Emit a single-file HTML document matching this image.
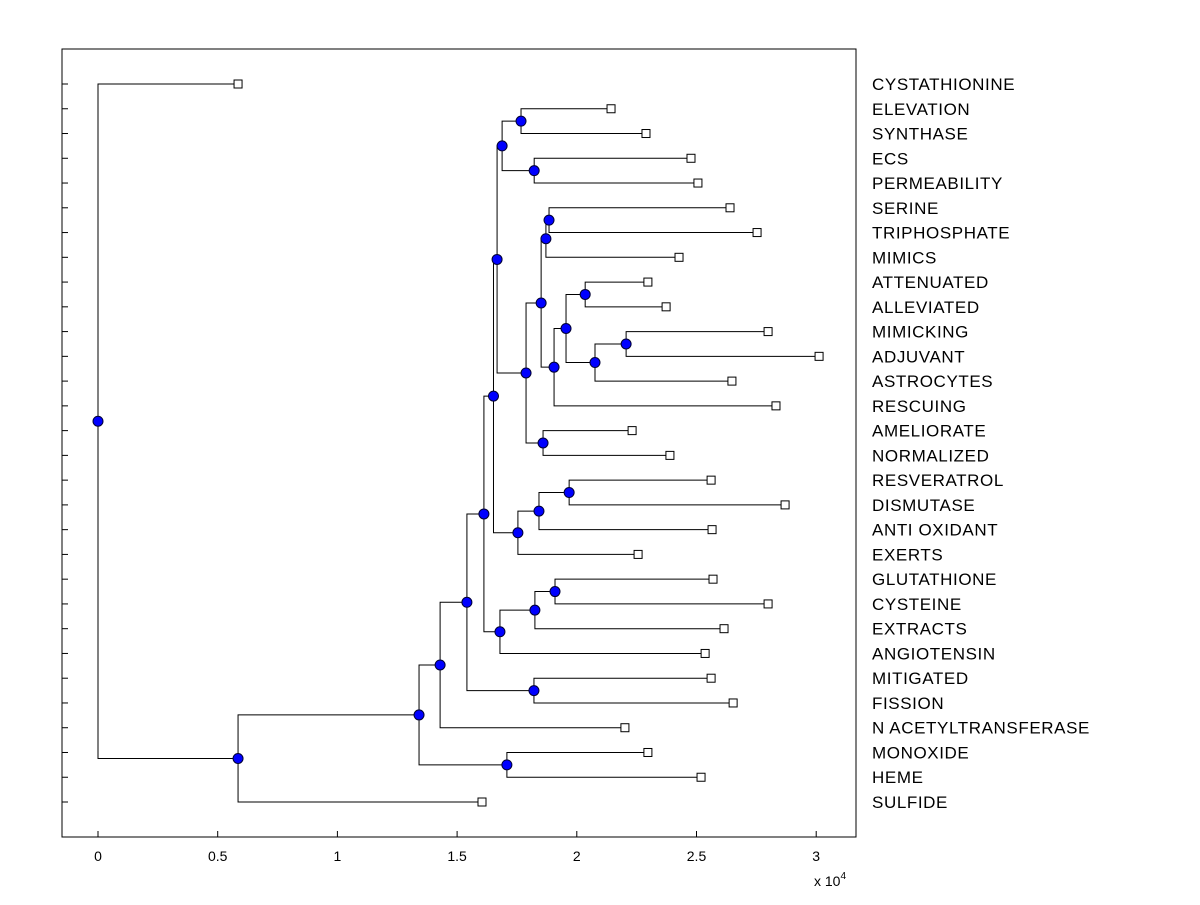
<!DOCTYPE html>
<html><head><meta charset="utf-8"><style>
body{margin:0;background:#fff;}
svg text{font-family:"Liberation Sans",Arial,sans-serif;}
</style></head><body>
<svg id="chart" width="1200" height="900" xmlns="http://www.w3.org/2000/svg">
<rect x="0" y="0" width="1200" height="900" fill="#fff"/>
<g id="plot"></g>
</svg>
<script>
const leafNames=["CYSTATHIONINE","ELEVATION","SYNTHASE","ECS","PERMEABILITY","SERINE","TRIPHOSPHATE","MIMICS","ATTENUATED","ALLEVIATED","MIMICKING","ADJUVANT","ASTROCYTES","RESCUING","AMELIORATE","NORMALIZED","RESVERATROL","DISMUTASE","ANTI OXIDANT","EXERTS","GLUTATHIONE","CYSTEINE","EXTRACTS","ANGIOTENSIN","MITIGATED","FISSION","N ACETYLTRANSFERASE","MONOXIDE","HEME","SULFIDE"];
const leafValues=[0.585,2.143,2.289,2.477,2.506,2.64,2.753,2.427,2.297,2.373,2.799,3.012,2.648,2.832,2.231,2.389,2.561,2.87,2.565,2.256,2.569,2.799,2.615,2.536,2.561,2.653,2.201,2.297,2.519,1.604];
// merges: leaves are "L#", internal nodes "N#" (index into these arrays)
const mergeLeft=["L1","L3","N0","L5","N3","L8","L10","N6","N5","N8","N4","L14","N10","N2","L16","N14","N15","N13","L20","N18","N19","N17","L24","N21","N23","L27","N24","N26","L0"];
const mergeRight=["L2","L4","N1","L6","L7","L9","L11","L12","N7","L13","N9","L15","N11","N12","L17","L18","L19","N16","L21","L22","L23","N20","L25","N22","L26","L28","N25","L29","N27"];
const mergeHeights=[1.767,1.822,1.688,1.884,1.871,2.035,2.206,2.076,1.955,1.905,1.851,1.859,1.788,1.667,1.968,1.842,1.754,1.652,1.909,1.825,1.679,1.612,1.821,1.541,1.429,1.708,1.341,0.585,0];
const xTicks=[0,0.5,1,1.5,2,2.5,3];

const NS="http://www.w3.org/2000/svg";
const g=document.getElementById('plot');
const L=62,R=856,T=49,B=837;
const xs=v=>98+v*239.4;
const ys=i=>84+i*(802-84)/(leafNames.length-1);
function mk(tag,attrs,parent){const e=document.createElementNS(NS,tag);for(const k in attrs)e.setAttribute(k,attrs[k]);(parent||g).appendChild(e);return e;}

const ax=mk('rect',{x:L,y:T,width:R-L,height:B-T,fill:'none',stroke:'#000','stroke-width':1});



xTicks.forEach(t=>{
  const x=xs(t);
  const tk=mk('line',{x1:x,x2:x,y1:B,y2:B-6,stroke:'#000'});
  
  
  const tl=mk('text',{x:x,y:B+24,'text-anchor':'middle','font-size':14});
  tl.textContent=String(t);
  
  
});
const ex=mk('text',{x:814,y:886,'font-size':14});
ex.innerHTML='x 10<tspan dy="-7" font-size="10">4</tspan>';



leafNames.forEach((n,i)=>{
  const y=ys(i);
  const tk=mk('line',{x1:L,x2:L+6,y1:y,y2:y,stroke:'#000'});
  
  
  const tl=mk('text',{x:872,y:y+6,'font-size':17,'letter-spacing':0.6});
  tl.textContent=n;
  
  
});

const pos={};
leafNames.forEach((n,i)=>{pos['L'+i]={x:leafValues[i],y:ys(i)};});
const lines=mk('g',{});
const marks=mk('g',{});
mergeLeft.forEach((a,k)=>{
  const b=mergeRight[k],h=mergeHeights[k];
  const pa=pos[a],pb=pos[b];
  const py=(pa.y+pb.y)/2;
  pos['N'+k]={x:h,y:py};
  const px=xs(h);
  const p=mk('path',{d:`M${xs(pa.x)},${pa.y}H${px}V${pb.y}H${xs(pb.x)}`,fill:'none',stroke:'#000','stroke-width':1},lines);
  
  
});
leafNames.forEach((n,i)=>{
  const r=mk('rect',{x:xs(leafValues[i])-4,y:ys(i)-4,width:8,height:8,fill:'#fff',stroke:'#000'},marks);
  
  
});
mergeHeights.forEach((h,k)=>{
  const c=mk('circle',{cx:xs(h),cy:pos['N'+k].y,r:5,fill:'#0000ff',stroke:'#000033','stroke-width':1},marks);
  
  
});
</script>
</body></html>
